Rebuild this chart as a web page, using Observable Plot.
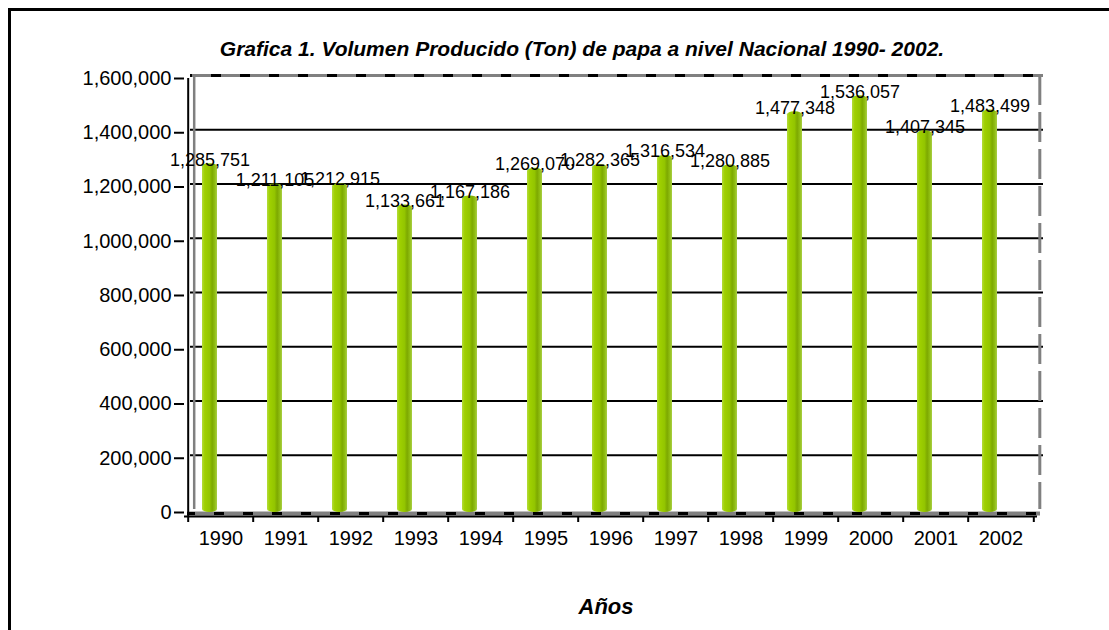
<!DOCTYPE html>
<html>
<head>
<meta charset="utf-8">
<script src="https://cdn.jsdelivr.net/npm/d3@7"></script>
<script src="https://cdn.jsdelivr.net/npm/@observablehq/plot@0.6"></script>
<style>
  html, body { margin: 0; padding: 0; background: #fff; overflow: hidden; width: 1109px; height: 630px; }
  #outer { position: absolute; left: 8px; top: 8px; width: 1200px; height: 800px; border: 3px solid #000; box-sizing: border-box; }
  #chart { position: absolute; left: 0; top: 0; }
</style>
</head>
<body>
<div id="outer"></div>
<div id="chart"></div>
<script>
const years = ["1990","1991","1992","1993","1994","1995","1996","1997","1998","1999","2000","2001","2002"];
const volumes = [1285751, 1211105, 1212915, 1133661, 1167186, 1269070, 1282365, 1316534, 1280885, 1477348, 1536057, 1407345, 1483499];
const yTicks = [0, 200000, 400000, 600000, 800000, 1000000, 1200000, 1400000, 1600000];
const titleText = "Grafica 1. Volumen Producido (Ton) de papa a nivel Nacional 1990- 2002.";
const xTitle = "Años";

const data = years.map((year, i) => ({year, value: volumes[i]}));
const fmt = d3.format(",");

const W = 1109, H = 630, mL = 184, mR = 72, mT = 78, mB = 118;
const step = (W - mL - mR) / years.length;
const font = "'Liberation Sans', Arial, Helvetica, sans-serif";
const wallGray = "#808080";

const svg = Plot.plot({
  width: W,
  height: H,
  marginLeft: mL,
  marginRight: mR,
  marginTop: mT,
  marginBottom: mB,
  style: {fontFamily: font, background: "transparent", color: "#000", overflow: "visible"},
  x: {type: "band", domain: years, padding: 0, label: null},
  y: {domain: [0, 1600000], label: null},
  marks: [
    // back wall gridlines
    Plot.ruleY(yTicks.filter(v => v > 0 && v < 1600000), {dx: 6, dy: -3, stroke: "#000", strokeWidth: 2}),
    // back wall top edge (dashed gray/black)
    Plot.ruleY([1600000], {dx: 6, dy: -3, stroke: wallGray, strokeWidth: 3}),
    Plot.ruleY([1600000], {dx: 6, dy: -3, stroke: "#000", strokeWidth: 3, strokeDasharray: "10,19", strokeDashoffset: 8}),
    // back wall left edge
    Plot.ruleX([years[0]], {dx: -step / 2 + 6, dy: -3, stroke: wallGray, strokeWidth: 2.5}),
    // back wall right edge (dashed)
    Plot.ruleX([years[years.length - 1]], {dx: step / 2 + 6, dy: -3, stroke: wallGray, strokeWidth: 3, strokeDasharray: "30,7"}),
    // floor
    Plot.ruleY([0], {dx: 3, dy: 1, stroke: wallGray, strokeWidth: 4}),
    Plot.ruleY([0], {dx: 3, dy: 1, stroke: "#000", strokeWidth: 3, strokeDasharray: "10,19", strokeDashoffset: 2}),
    // bars
    Plot.barY(data, {x: "year", y: "value", fill: "url(#barGrad)", insetLeft: 25, insetRight: 25, dx: -11, rx: 7, ry: 3}),
    // value labels
    Plot.text(data, {x: "year", y: "value", text: d => fmt(d.value), dx: -11, dy: -4, fontSize: 18, lineAnchor: "middle", fill: "#000"}),
    // y axis
    Plot.axisY(yTicks, {tickSize: 10, tickPadding: 3, fontSize: 20, tickFormat: fmt, strokeWidth: 2, label: null}),
    Plot.ruleX([years[0]], {dx: -step / 2, insetBottom: -4, stroke: "#000", strokeWidth: 2}),
    // x axis
    Plot.ruleY([0], {dy: 4, stroke: "#000", strokeWidth: 2}),
    Plot.ruleX(years, {dx: -step / 2, insetTop: 438, insetBottom: -10, stroke: "#000", strokeWidth: 2}),
    Plot.ruleX([years[years.length - 1]], {dx: step / 2, insetTop: 438, insetBottom: -10, stroke: "#000", strokeWidth: 2}),
    Plot.axisX({tickSize: 0, tickPadding: 18, fontSize: 20, label: null}),
    // titles
    Plot.text([titleText], {text: d => d, frameAnchor: "top", dx: -29, dy: -23, lineAnchor: "bottom", fontSize: 21, fontWeight: "bold", fontStyle: "italic", fill: "#000"}),
    Plot.text([xTitle], {text: d => d, frameAnchor: "bottom", dx: -5, dy: 101, lineAnchor: "bottom", fontSize: 22, fontWeight: "bold", fontStyle: "italic", fill: "#000"})
  ]
});

d3.select(svg).insert("defs", ":first-child").html(`
  <linearGradient id="barGrad" x1="0" y1="0" x2="1" y2="0">
    <stop offset="0%" stop-color="#b4dc3c"/>
    <stop offset="18%" stop-color="#9fd000"/>
    <stop offset="50%" stop-color="#93c500"/>
    <stop offset="68%" stop-color="#7da900"/>
    <stop offset="84%" stop-color="#8fbd12"/>
    <stop offset="100%" stop-color="#a9cf45"/>
  </linearGradient>
`);

document.getElementById("chart").appendChild(svg);
</script>
</body>
</html>
